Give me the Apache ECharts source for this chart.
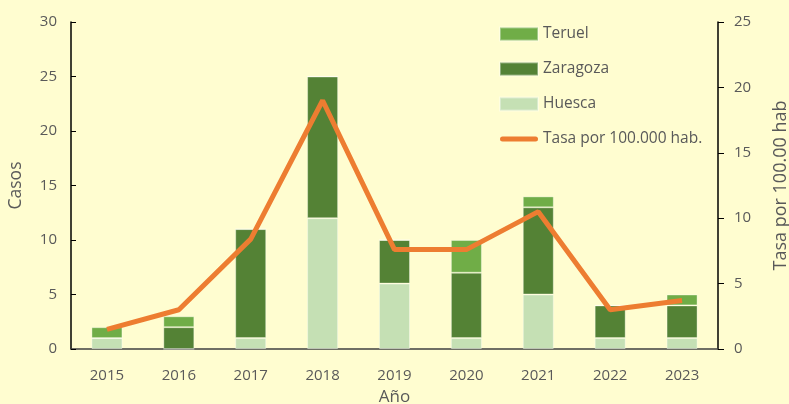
<!DOCTYPE html>
<html>
<head>
<meta charset="utf-8">
<script src="https://cdn.jsdelivr.net/npm/echarts@6/dist/echarts.min.js"></script>
<style>
  html, body { margin: 0; padding: 0; background: #FFFDD0; overflow: hidden; }
  #chart { width: 789px; height: 404px; }
</style>
</head>
<body>
<div id="chart"></div>
<script>
const years = ['2015', '2016', '2017', '2018', '2019', '2020', '2021', '2022', '2023'];
const huesca = [1, 0, 1, 12, 6, 1, 5, 1, 1];
const zaragoza = [0, 2, 10, 13, 4, 6, 8, 3, 3];
const teruel = [1, 1, 0, 0, 0, 3, 1, 0, 1];
const tasa = [1.5, 3.0, 8.4, 19.0, 7.6, 7.6, 10.5, 3.0, 3.7];

const textColor = '#595959';
const font = 'Open Sans';

const chart = echarts.init(document.getElementById('chart'));

const barStyle = (color) => ({
    color: color,
    borderColor: 'rgba(255,255,255,0.35)',
    borderWidth: 1
});

const option = {
    backgroundColor: '#FFFDD0',
    animation: false,
    textStyle: { fontFamily: font },
    grid: { left: 71, right: 71, top: 22, bottom: 55, outerBoundsMode: 'none', containLabel: false },
    legend: {
        orient: 'vertical',
        left: 494,
        top: 21,
        itemGap: 19,
        itemWidth: 38,
        itemHeight: 13,
        textStyle: { color: textColor, fontSize: 15.5, fontFamily: font },
        data: [
            { name: 'Teruel', icon: 'rect' },
            { name: 'Zaragoza', icon: 'rect' },
            { name: 'Huesca', icon: 'rect' },
            { name: 'Tasa por 100.000 hab.', icon: 'path://M2.5,0H35.5A2.5,2.5,0,0,1,35.5,5H2.5A2.5,2.5,0,0,1,2.5,0Z' }
        ]
    },
    xAxis: {
        type: 'category',
        data: years,
        name: 'Año',
        nameLocation: 'middle',
        nameGap: 40,
        nameTextStyle: { color: textColor, fontSize: 17 },
        axisLine: { lineStyle: { color: '#404040', width: 1.5 } },
        axisTick: { inside: true, length: 5, lineStyle: { color: '#404040' } },
        axisLabel: { color: textColor, fontSize: 15, margin: 19 }
    },
    yAxis: [
        {
            type: 'value',
            min: 0, max: 30, interval: 5,
            name: 'Casos',
            nameLocation: 'middle',
            nameGap: 46,
            nameTextStyle: { color: textColor, fontSize: 17.5 },
            axisLine: { show: true, lineStyle: { color: '#000', width: 1.5 } },
            axisTick: { show: true, inside: true, length: 5, lineStyle: { color: '#000' } },
            axisLabel: { color: textColor, fontSize: 15, margin: 14 },
            splitLine: { show: false }
        },
        {
            type: 'value',
            min: 0, max: 25, interval: 5,
            name: 'Tasa por 100.00 hab',
            nameLocation: 'middle',
            nameGap: 54,
            nameRotate: 90,
            nameTextStyle: { color: textColor, fontSize: 18 },
            axisLine: { show: true, lineStyle: { color: '#000', width: 1.5 } },
            axisTick: { show: true, inside: false, length: 6, lineStyle: { color: '#000' } },
            axisLabel: { color: textColor, fontSize: 15, margin: 16 },
            splitLine: { show: false }
        }
    ],
    series: [
        {
            name: 'Huesca', type: 'bar', stack: 'casos', barWidth: 31,
            data: huesca, itemStyle: barStyle('#C5E0B4')
        },
        {
            name: 'Zaragoza', type: 'bar', stack: 'casos', barWidth: 31,
            data: zaragoza, itemStyle: barStyle('#548235')
        },
        {
            name: 'Teruel', type: 'bar', stack: 'casos', barWidth: 31,
            data: teruel, itemStyle: barStyle('#70AD47')
        },
        {
            name: 'Tasa por 100.000 hab.', type: 'line', yAxisIndex: 1,
            data: tasa, symbol: 'none',
            lineStyle: { color: '#ED7D31', width: 5 },
            itemStyle: { color: '#ED7D31' }
        }
    ]
};

chart.setOption(option);
</script>
</body>
</html>
